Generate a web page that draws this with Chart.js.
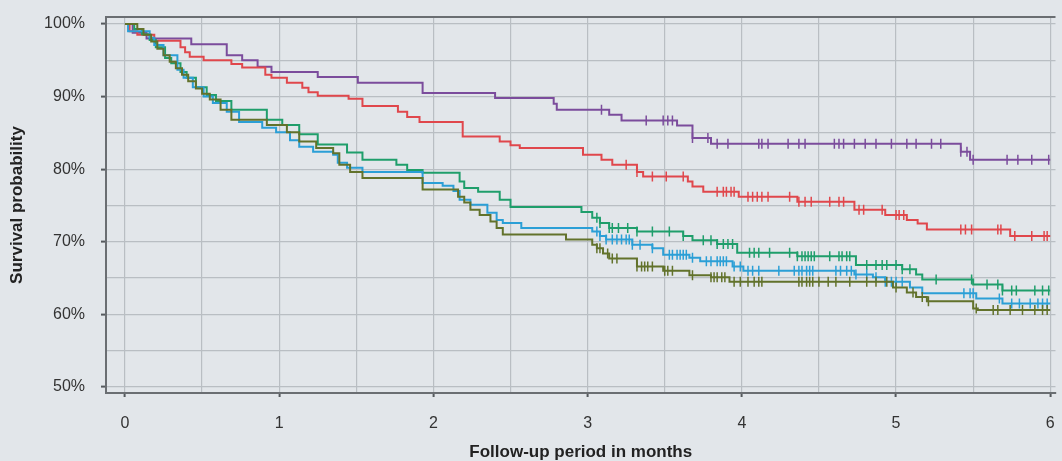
<!DOCTYPE html>
<html>
<head>
<meta charset="utf-8">
<script src="https://cdn.jsdelivr.net/npm/chart.js@4.4.0/dist/chart.umd.min.js"></script>
<style>
  html, body { margin: 0; padding: 0; background: #e2e6ea; }
  #wrap { width: 1062px; height: 461px; }
</style>
</head>
<body>
<div id="wrap"><canvas id="km"></canvas></div>
<script>
// Kaplan-Meier steps: time (months) where survival changes, and the new survival (%)
const purpleT = [0, 0.05, 0.14, 0.43, 0.66, 0.76, 0.86, 0.95, 1.25, 1.51, 1.93, 2.40, 2.78, 2.80, 3.14, 3.22, 3.58, 3.68, 3.80, 5.42, 5.48];
const purpleS = [100, 98.8, 98.0, 97.2, 95.7, 95.0, 94.1, 93.4, 92.7, 91.9, 90.5, 89.8, 89.0, 88.2, 87.5, 86.7, 86.0, 84.3, 83.5, 82.4, 81.3];
const purpleCens = [3.09, 3.38, 3.49, 3.52, 3.55, 3.68, 3.78, 3.84, 3.91, 4.11, 4.13, 4.17, 4.30, 4.37, 4.41, 4.60, 4.63, 4.66, 4.73, 4.80, 4.87, 4.97, 5.07, 5.13, 5.23, 5.29, 5.42, 5.46, 5.50, 5.72, 5.79, 5.88, 5.99];

const redT = [0, 0.03, 0.08, 0.19, 0.36, 0.39, 0.42, 0.51, 0.69, 0.76, 0.91, 0.95, 1.05, 1.15, 1.19, 1.25, 1.45, 1.54, 1.77, 1.83, 1.91, 2.19, 2.43, 2.50, 2.56, 2.97, 3.09, 3.16, 3.32, 3.36, 3.65, 3.68, 3.75, 3.98, 4.36, 4.73, 4.93, 5.07, 5.14, 5.20, 5.74];
const redS = [100, 99.0, 98.5, 97.7, 96.8, 96.1, 95.5, 95.0, 94.5, 94.0, 93.0, 92.6, 91.9, 91.2, 90.6, 90.1, 89.7, 88.7, 87.9, 87.2, 86.5, 84.5, 83.8, 83.3, 82.9, 82.0, 81.3, 80.6, 79.6, 79.0, 78.3, 77.6, 76.9, 76.2, 75.5, 74.4, 73.7, 73.0, 72.5, 71.7, 70.8];
const redCens = [3.25, 3.32, 3.42, 3.51, 3.62, 3.84, 3.88, 3.90, 3.93, 3.95, 4.04, 4.07, 4.10, 4.13, 4.17, 4.31, 4.37, 4.41, 4.45, 4.57, 4.63, 4.66, 4.76, 4.79, 4.91, 5.00, 5.02, 5.05, 5.42, 5.45, 5.49, 5.66, 5.68, 5.77, 5.88, 5.96, 5.98];

const greenT = [0, 0.06, 0.11, 0.16, 0.20, 0.26, 0.30, 0.36, 0.40, 0.46, 0.53, 0.59, 0.69, 0.92, 1.02, 1.13, 1.25, 1.44, 1.54, 1.76, 1.83, 1.93, 2.17, 2.20, 2.29, 2.43, 2.50, 2.96, 3.03, 3.08, 3.14, 3.32, 3.62, 3.68, 3.84, 3.97, 4.36, 4.74, 5.04, 5.13, 5.17, 5.50, 5.69];
const greenS = [100, 99.3, 98.6, 97.8, 96.8, 95.3, 94.6, 93.4, 92.6, 91.3, 90.2, 89.4, 88.2, 86.8, 86.1, 84.8, 83.4, 82.3, 81.3, 80.6, 79.9, 79.5, 78.3, 77.4, 76.9, 75.8, 74.8, 74.1, 73.3, 72.6, 71.9, 71.4, 70.8, 70.2, 69.7, 68.5, 68.0, 66.8, 66.2, 65.5, 64.8, 64.1, 63.3];
const greenCens = [3.06, 3.08, 3.14, 3.16, 3.20, 3.26, 3.32, 3.42, 3.53, 3.62, 3.75, 3.80, 3.84, 3.88, 3.91, 3.94, 4.05, 4.08, 4.11, 4.18, 4.31, 4.36, 4.39, 4.41, 4.43, 4.45, 4.47, 4.57, 4.63, 4.65, 4.68, 4.70, 4.81, 4.87, 4.91, 4.94, 5.00, 5.04, 5.09, 5.26, 5.49, 5.59, 5.66, 5.69, 5.75, 5.78, 5.90, 5.95, 5.99];

const blueT = [0, 0.02, 0.16, 0.19, 0.25, 0.34, 0.38, 0.44, 0.51, 0.57, 0.66, 0.74, 0.89, 0.98, 1.07, 1.13, 1.22, 1.35, 1.38, 1.44, 1.54, 1.93, 2.06, 2.13, 2.17, 2.24, 2.35, 2.41, 2.45, 2.57, 3.03, 3.08, 3.12, 3.29, 3.42, 3.49, 3.66, 3.73, 3.94, 4.01, 4.73, 4.85, 4.93, 5.09, 5.17, 5.52, 5.69];
const blueS = [100, 99.0, 98.1, 97.1, 95.7, 93.7, 92.6, 91.3, 90.0, 89.1, 87.9, 86.5, 85.7, 85.1, 84.0, 83.1, 82.4, 82.0, 80.9, 80.2, 79.6, 78.1, 77.7, 77.0, 75.8, 75.1, 74.0, 73.0, 72.6, 71.9, 71.4, 70.8, 70.3, 69.6, 69.1, 68.2, 67.8, 67.3, 66.6, 66.0, 65.5, 65.1, 64.5, 63.7, 62.9, 62.2, 61.5];
const blueCens = [3.06, 3.08, 3.12, 3.16, 3.19, 3.22, 3.25, 3.27, 3.29, 3.34, 3.42, 3.53, 3.55, 3.58, 3.60, 3.62, 3.64, 3.68, 3.77, 3.80, 3.84, 3.86, 3.88, 3.90, 3.95, 3.99, 4.04, 4.07, 4.11, 4.24, 4.34, 4.37, 4.39, 4.42, 4.44, 4.46, 4.61, 4.64, 4.68, 4.71, 4.74, 4.81, 4.87, 4.93, 4.97, 5.00, 5.04, 5.44, 5.48, 5.50, 5.67, 5.75, 5.80, 5.87, 5.92, 5.95, 5.98];

const oliveT = [0, 0.08, 0.12, 0.17, 0.21, 0.25, 0.29, 0.33, 0.37, 0.41, 0.46, 0.50, 0.55, 0.62, 0.69, 0.92, 1.05, 1.13, 1.24, 1.35, 1.39, 1.46, 1.54, 1.93, 2.16, 2.20, 2.24, 2.30, 2.37, 2.41, 2.45, 2.86, 3.03, 3.06, 3.10, 3.14, 3.32, 3.49, 3.66, 3.80, 3.92, 4.98, 5.07, 5.13, 5.20, 5.50, 5.53];
const oliveS = [100, 99.3, 98.5, 97.6, 96.6, 95.7, 94.8, 93.9, 93.0, 92.1, 91.1, 90.4, 89.6, 88.2, 86.8, 86.1, 85.1, 83.8, 82.9, 82.2, 80.6, 79.6, 78.8, 77.2, 76.2, 75.4, 74.4, 73.7, 72.8, 71.9, 71.0, 70.3, 69.6, 69.1, 68.4, 67.7, 66.6, 66.0, 65.4, 65.1, 64.5, 63.7, 63.0, 62.4, 61.8, 60.8, 60.6];
const oliveCens = [3.06, 3.08, 3.13, 3.16, 3.19, 3.32, 3.35, 3.37, 3.39, 3.42, 3.50, 3.52, 3.55, 3.68, 3.80, 3.82, 3.84, 3.87, 3.89, 3.95, 3.99, 4.04, 4.08, 4.11, 4.13, 4.37, 4.39, 4.42, 4.44, 4.46, 4.50, 4.56, 4.61, 4.70, 4.81, 4.87, 4.94, 5.00, 5.11, 5.17, 5.21, 5.52, 5.63, 5.66, 5.74, 5.82, 5.90, 5.95, 5.98];

const END_T = 6.0;
const xTicks = [0, 0.5, 1, 1.5, 2, 2.5, 3, 3.5, 4, 4.5, 5, 5.5, 6];
const yTicks = [50, 55, 60, 65, 70, 75, 80, 85, 90, 95, 100];

const series = [
  { name: "olive",  t: oliveT,  s: oliveS,  cens: oliveCens,  color: "#62722b" },
  { name: "blue",   t: blueT,   s: blueS,   cens: blueCens,   color: "#2b9fd6" },
  { name: "green",  t: greenT,  s: greenS,  cens: greenCens,  color: "#1f9e6b" },
  { name: "red",    t: redT,    s: redS,    cens: redCens,    color: "#e0474c" },
  { name: "purple", t: purpleT, s: purpleS, cens: purpleCens, color: "#7b4c9c" }
];

const stepAt = (t, s, x) => {
  let v = s[0];
  for (let i = 0; i < t.length; i++) if (t[i] <= x) v = s[i];
  return v;
};

const datasets = [];
series.forEach((d) => {
  const pts = d.t.map((x, i) => ({ x, y: d.s[i] }));
  pts.push({ x: END_T, y: d.s[d.s.length - 1] });
  datasets.push({
    label: d.name, data: pts, borderColor: d.color, borderWidth: 2,
    stepped: "before", pointRadius: 0, fill: false
  });
  datasets.push({
    label: d.name + " censored", data: d.cens.map((x) => ({ x, y: stepAt(d.t, d.s, x) })),
    showLine: false, pointStyle: "line", rotation: 90, pointRadius: 5,
    borderColor: d.color, borderWidth: 1.5
  });
});

const FONT = "'Liberation Sans', Arial, sans-serif";

const frameTop = {
  id: "frameTop",
  afterDraw(chart) {
    const { ctx, chartArea } = chart;
    ctx.save();
    ctx.strokeStyle = "#6a6e72";
    ctx.lineWidth = 2;
    ctx.beginPath();
    ctx.moveTo(chartArea.left, chartArea.top);
    ctx.lineTo(chartArea.right, chartArea.top);
    ctx.stroke();
    ctx.restore();
  }
};

const noPad = (s) => { s.paddingLeft = 0; s.paddingRight = 0; s.paddingTop = 0; s.paddingBottom = 0; };

new Chart(document.getElementById("km"), {
  type: "line",
  data: { datasets },
  plugins: [frameTop],
  options: {
    responsive: true,
    maintainAspectRatio: false,
    animation: false,
    layout: { padding: { top: 17, right: 0, left: 0, bottom: 0 } },
    plugins: { legend: { display: false }, tooltip: { enabled: false } },
    scales: {
      x: {
        type: "linear", min: -0.123, max: 6.034,
        afterBuildTicks: (s) => { s.ticks = xTicks.map((v) => ({ value: v })); },
        afterFit: (s) => { s.height = 68; noPad(s); },
        ticks: {
          autoSkip: false, maxRotation: 0, padding: 17, color: "#333",
          font: { family: FONT, size: 16 },
          callback: (v) => (Number.isInteger(v) ? String(v) : "")
        },
        grid: {
          color: "#b9bec3", lineWidth: 1.2, tickLength: 4,
          tickColor: (c) => (c.tick && Number.isInteger(c.tick.value) ? "#55595d" : "rgba(0,0,0,0)"),
          tickWidth: 2
        },
        border: { display: true, color: "#6a6e72", width: 2 },
        title: {
          display: true, text: "Follow-up period in months", color: "#222",
          font: { family: FONT, size: 17, weight: "bold", lineHeight: 1.0 },
          padding: { top: 0, bottom: 0 }
        }
      },
      y: {
        type: "linear", min: 49.17, max: 100.96,
        afterBuildTicks: (s) => { s.ticks = yTicks.map((v) => ({ value: v })); },
        afterFit: (s) => { s.width = 106; noPad(s); },
        ticks: {
          padding: 16, color: "#333",
          font: { family: FONT, size: 16 },
          callback: (v) => (v % 10 === 0 ? v + "%" : "")
        },
        grid: {
          color: "#b9bec3", lineWidth: 1.2, tickLength: 5,
          tickColor: (c) => (c.tick && c.tick.value % 10 === 0 ? "#55595d" : "rgba(0,0,0,0)"),
          tickWidth: 2
        },
        border: { display: true, color: "#6a6e72", width: 2 },
        title: {
          display: true, text: "Survival probability", color: "#222",
          font: { family: FONT, size: 17, weight: "bold", lineHeight: 1.2 },
          padding: { top: 7, bottom: 0 }
        }
      }
    }
  }
});
</script>
</body>
</html>
